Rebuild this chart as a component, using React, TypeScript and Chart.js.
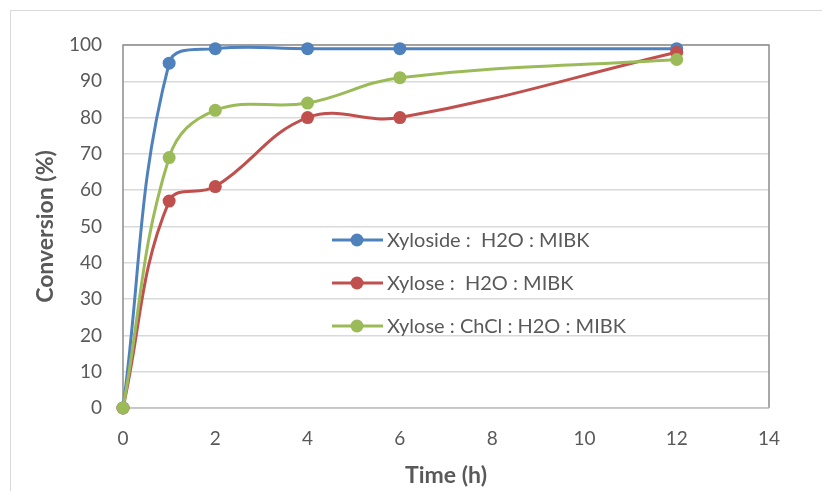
import React, { useEffect, useRef } from "react";
import { Chart, registerables } from "chart.js";

Chart.register(...registerables);

const timeHours = [0, 1, 2, 4, 6, 12];
const xylosideH2oMibk = [0, 95, 99, 99, 99, 99];
const xyloseH2oMibk = [0, 57, 61, 80, 80, 98];
const xyloseChclH2oMibk = [0, 69, 82, 84, 91, 96];
const seriesLabels = [
  "Xyloside :  H2O : MIBK",
  "Xylose :  H2O : MIBK",
  "Xylose : ChCl : H2O : MIBK",
];
const seriesColors = ["#4f81bd", "#c0504d", "#9bbb59"];
const xAxisTitle = "Time (h)";
const yAxisTitle = "Conversion (%)";
const xRange = [0, 14];
const xStep = 2;
const yRange = [0, 100];
const yStep = 10;

const FONT = "Lato, 'Open Sans', 'DejaVu Sans', sans-serif";
const TEXT = "#595959";

const App: React.FC = () => {
  const ref = useRef<HTMLCanvasElement | null>(null);

  useEffect(() => {
    if (!ref.current) return;
    const seriesValues = [xylosideH2oMibk, xyloseH2oMibk, xyloseChclH2oMibk];

    const frame = {
      id: "frame",
      beforeDraw(chart: any) {
        const ctx = chart.ctx;
        ctx.save();
        ctx.strokeStyle = "#d9d9d9";
        ctx.lineWidth = 1;
        ctx.strokeRect(10.5, 10.5, 1000, 1000);
        ctx.restore();
      },
      beforeDatasetsDraw(chart: any) {
        const { ctx, chartArea: a } = chart;
        ctx.save();
        ctx.strokeStyle = "#8c8c8c";
        ctx.lineWidth = 1.5;
        ctx.beginPath();
        ctx.moveTo(a.left, a.bottom);
        ctx.lineTo(a.left, a.top);
        ctx.lineTo(a.right, a.top);
        ctx.lineTo(a.right, a.bottom);
        ctx.stroke();
        ctx.strokeStyle = "#bfbfbf";
        ctx.beginPath();
        ctx.moveTo(a.left, a.bottom);
        ctx.lineTo(a.right, a.bottom);
        ctx.stroke();
        ctx.restore();
      },
    };

    const legend = {
      id: "customLegend",
      afterDatasetsDraw(chart: any) {
        const ctx = chart.ctx;
        ctx.save();
        chart.data.datasets.forEach((ds: any, i: number) => {
          const y = 240 + i * 43;
          ctx.strokeStyle = ds.borderColor;
          ctx.lineWidth = 3;
          ctx.beginPath();
          ctx.moveTo(332, y);
          ctx.lineTo(383, y);
          ctx.stroke();
          ctx.fillStyle = ds.borderColor;
          ctx.beginPath();
          ctx.arc(357, y, 6.5, 0, Math.PI * 2);
          ctx.fill();
          ctx.fillStyle = TEXT;
          ctx.font = `20px ${FONT}`;
          ctx.textBaseline = "middle";
          ctx.textAlign = "left";
          ctx.fillText(ds.label, 387, y + 1);
        });
        ctx.restore();
      },
    };

    const chart = new Chart(ref.current, {
      type: "line",
      data: {
        datasets: seriesValues.map((vals, i) => ({
          label: seriesLabels[i],
          data: timeHours.map((t, j) => ({ x: t, y: vals[j] })),
          borderColor: seriesColors[i],
          backgroundColor: seriesColors[i],
          pointBackgroundColor: seriesColors[i],
          pointBorderColor: seriesColors[i],
          borderWidth: 3,
          pointRadius: 6.5,
          pointBorderWidth: 0,
          tension: 0.4,
          fill: false,
          clip: false,
          order: 3 - i,
        })),
      },
      options: {
        animation: false,
        responsive: false,
        layout: { padding: { top: 45, right: 53, bottom: 2, left: 0 } },
        plugins: {
          legend: { display: false },
          tooltip: { enabled: false },
        },
        scales: {
          x: {
            type: "linear",
            min: xRange[0],
            max: xRange[1],
            grid: { display: false, drawTicks: false },
            border: { display: false },
            ticks: {
              stepSize: xStep,
              padding: 19,
              color: TEXT,
              font: { family: FONT, size: 19 },
              maxRotation: 0,
            },
            title: {
              display: true,
              text: xAxisTitle,
              color: TEXT,
              font: { family: FONT, size: 23, weight: "bold" },
              padding: { top: 0, bottom: 0 },
            },
            afterFit: (s: any) => {
              s.height = 81;
            },
          },
          y: {
            type: "linear",
            min: yRange[0],
            max: yRange[1],
            grid: { color: "#d9d9d9", lineWidth: 1.5, drawTicks: false },
            border: { display: false },
            ticks: {
              stepSize: yStep,
              padding: 21,
              color: TEXT,
              font: { family: FONT, size: 19 },
            },
            title: {
              display: true,
              text: yAxisTitle,
              color: TEXT,
              font: { family: FONT, size: 23, weight: "bold" },
              padding: { top: 32, bottom: 0 },
            },
            afterFit: (s: any) => {
              s.width = 123;
            },
          },
        },
      },
      plugins: [frame, legend],
    } as any);

    return () => chart.destroy();
  }, []);

  return (
    <div style={{ position: "fixed", left: 0, top: 0, width: 822, height: 491, background: "#fff" }}>
      <canvas ref={ref} width={822} height={491} style={{ display: "block" }} />
    </div>
  );
};

export default App;
